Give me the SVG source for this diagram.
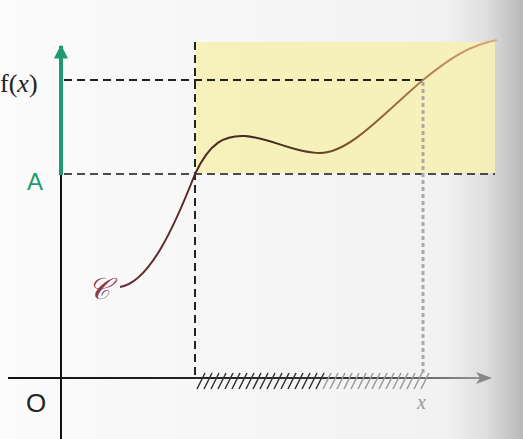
<svg xmlns="http://www.w3.org/2000/svg" width="523" height="439" viewBox="0 0 523 439">
  <defs>
    <linearGradient id="bg" x1="0" y1="0" x2="1" y2="0">
      <stop offset="0" stop-color="#fbfbfb"/>
      <stop offset="0.85" stop-color="#f2f2f2"/>
      <stop offset="0.93" stop-color="#dedede"/>
      <stop offset="1" stop-color="#b8b8b8"/>
    </linearGradient>
    <linearGradient id="curveGrad" x1="120" y1="0" x2="497" y2="0" gradientUnits="userSpaceOnUse">
      <stop offset="0" stop-color="#6a2a34"/>
      <stop offset="0.4" stop-color="#3e2a1e"/>
      <stop offset="0.65" stop-color="#8a5a30"/>
      <stop offset="1" stop-color="#e0a878"/>
    </linearGradient>
    <linearGradient id="fade" x1="8" y1="0" x2="490" y2="0" gradientUnits="userSpaceOnUse">
      <stop offset="0" stop-color="#111"/>
      <stop offset="0.7" stop-color="#333"/>
      <stop offset="1" stop-color="#999"/>
    </linearGradient>
    <marker id="greenHead" viewBox="0 0 10 10" refX="9" refY="5" markerWidth="3.5" markerHeight="3.5" orient="auto">
      <path d="M0,0 L10,5 L0,10 z" fill="#1e9a6c"/>
    </marker>
    <marker id="greyHead" viewBox="0 0 10 10" refX="9" refY="5" markerWidth="8" markerHeight="8" orient="auto" markerUnits="userSpaceOnUse">
      <path d="M0,1 L10,5 L0,9 L3,5 z" fill="#888"/>
    </marker>
  </defs>
  <style>
    .dash { stroke: #222; stroke-width: 2; stroke-dasharray: 8 5; fill: none; }
    .hatch { stroke-width: 1.5; }
  </style>
  <rect x="0" y="0" width="523" height="439" fill="url(#bg)"/>
  <rect x="196" y="42" width="299" height="131" fill="#f6efb4" opacity="0.9"/>

  <g id="axes">
    <line x1="61" y1="439" x2="61" y2="175" stroke="#111" stroke-width="2"/>
    <line x1="61" y1="175" x2="61" y2="46" stroke="#1e9a6c" stroke-width="4" marker-end="url(#greenHead)"/>
    <line x1="8" y1="378" x2="490" y2="378" stroke="url(#fade)" stroke-width="2"/>
    <path d="M476,372 L492,378 L476,384 L480,378 z" fill="#888"/>
  </g>

  <g id="connectors">
    <line class="dash" x1="64" y1="80" x2="424" y2="80"/>
    <line class="dash" x1="64" y1="174" x2="495" y2="174" stroke-opacity="0.8"/>
    <line class="dash" x1="195" y1="42" x2="195" y2="378"/>
    <line x1="423" y1="82" x2="423" y2="376" stroke="#aaa" stroke-width="3" stroke-dasharray="4 3"/>
  </g>

  <g id="hatching">
    <path d="M197,389 l8,-16 M204,389 l8,-16 M211,389 l8,-16 M218,389 l8,-16 M225,389 l8,-16 M232,389 l8,-16 M239,389 l8,-16 M246,389 l8,-16 M253,389 l8,-16 M260,389 l8,-16 M267,389 l8,-16 M274,389 l8,-16 M281,389 l8,-16 M288,389 l8,-16 M295,389 l8,-16 M302,389 l8,-16 M309,389 l8,-16 M316,389 l8,-16" stroke="#333" class="hatch"/>
    <path d="M323,389 l8,-16 M330,389 l8,-16 M337,389 l8,-16 M344,389 l8,-16 M351,389 l8,-16 M358,389 l8,-16 M365,389 l8,-16 M372,389 l8,-16 M379,389 l8,-16 M386,389 l8,-16 M393,389 l8,-16 M400,389 l8,-16 M407,389 l8,-16 M414,389 l8,-16 M421,389 l8,-16" stroke="#999" class="hatch"/>
  </g>

  <g id="curve">
    <path d="M120,287 C150,282 175,225 195,174 C210,142 225,135 245,136 C270,138 295,153 320,153 C350,153 385,112 423,80 C450,58 470,45 497,40" fill="none" stroke="url(#curveGrad)" stroke-width="2"/>
  </g>

  <g id="labels">
    <text x="0" y="92" font-family="Liberation Serif, serif" font-size="26" fill="#222">f(<tspan font-style="italic">x</tspan>)</text>
    <text x="27" y="190" font-family="Liberation Sans, sans-serif" font-size="24" fill="#1e9a6c">A</text>
    <text x="26" y="412" font-family="Liberation Sans, sans-serif" font-size="26" fill="#222">O</text>
    <text x="88" y="299" font-family="DejaVu Serif, serif" font-size="30" font-style="italic" fill="#8a3a4a">𝒞</text>
    <text x="417" y="409" font-family="Liberation Serif, serif" font-size="20" font-style="italic" fill="#999">x</text>
  </g>
</svg>
